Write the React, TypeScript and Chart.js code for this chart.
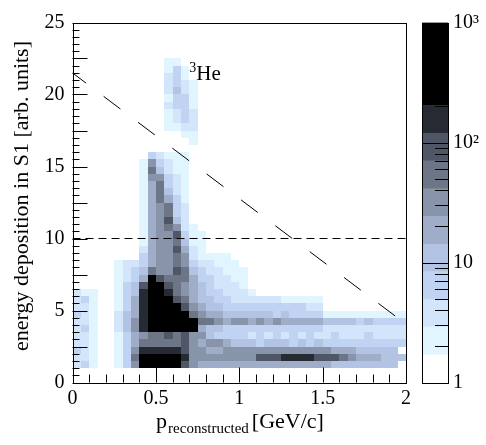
import React, { useEffect, useRef } from 'react';
import { Chart, registerables } from 'chart.js';

Chart.register(...registerables);

const FONT = "'Liberation Serif', 'Times New Roman', serif";
Chart.defaults.font.family = FONT;

// histogram binning (GeV/c x arb. units)
const BIN_W = 0.05;
const BIN_H = 0.5;

// colour levels of the z axis (counts) and their fill colours
const Z_LEVELS = [1, 1.7, 2.9, 4.9, 8.4, 14.2, 24.2, 41.2, 70.2, 119.4, 203.3, 346.1, 589.3, 1000];
const Z_COLORS = [
  '#ffffff', '#e1f5fe', '#d3e5fb', '#c1d3f3', '#b3c3e4', '#9fadc8', '#8794aa',
  '#6c7687', '#4f5666', '#262a33', '#000000', '#000000', '#000000',
];
const Z_TICKS = [1, 10, 100, 1000];
const Z_LABELS = ['1', '10', '10²', '10³'];

// dashed cut lines
const CUT_LINE = [{ x: 0, y: 10 }, { x: 2, y: 10 }];
const DIAG_LINE = [{ x: 0, y: 21.5 }, { x: 2, y: 4.05 }];

// histogram rows, top (y=25) to bottom (y=0); "startCol:levels", level = colour band index (base 13)
const HIST_ROWS = [
  '', '', '', '', '',
  '11:11',
  '11:131',
  '11:231',
  '11:2321',
  '11:2421',
  '11:1331',
  '11:2331',
  '11:1232',
  '11:1232',
  '11:1122',
  '13:11',
  '14:1',
  '',
  '9:32111',
  '8:163211',
  '8:174211',
  '8:166321',
  '8:157321',
  '8:157421',
  '8:157531',
  '8:156732',
  '8:156732',
  '8:156842',
  '8:1567621',
  '8:15668311',
  '8:15667411',
  '8:25668521',
  '8:35667621111',
  '5:122356676322111',
  '5:1234766874322111',
  '5:1235c87775332211',
  '5:1348cc8765432221',
  '0:211 5:1349cc97654332221',
  '0:231 5:1359ccc875443322222211111',
  '0:221 5:1359cccc86544333333333322',
  '0:321 5:2459ccccb76554444443433331111111111',
  '0:221 5:2469cccccb7765665656555554444343333',
  '0:231 5:2469ccccca5443333333333332222222222',
  '0:221 5:13567787866433332323232322322232222',
  '0:221 5:13577777865665444344434343333333333',
  '0:321 5:1369999986655666666666666655544444',
  '0:221 5:137ccccb966666666888999988876555444',
  '0:231 5:136cccca86555555555555555544444444',
  '', '',
];

type Cell = { x: number; y: number; v: number };

const CELLS: Cell[] = [];
HIST_ROWS.forEach((row, i) => {
  const r = HIST_ROWS.length - 1 - i;
  row.split(' ').filter(Boolean).forEach((seg) => {
    const [start, levels] = seg.split(':');
    [...levels].forEach((ch, j) => {
      if (ch === '.') return;
      const k = parseInt(ch, 13);
      CELLS.push({ x: (Number(start) + j) * BIN_W, y: r * BIN_H, v: Math.sqrt(Z_LEVELS[k] * Z_LEVELS[k + 1]) });
    });
  });
});

const bandOf = (v: number) => {
  for (let k = 0; k < Z_COLORS.length; k++) {
    if (v < Z_LEVELS[k + 1]) return k;
  }
  return Z_COLORS.length - 1;
};

const hist2d = {
  id: 'hist2d',
  beforeDatasetsDraw(chart: any) {
    const { ctx, scales: { x, y } } = chart;
    ctx.save();
    for (const c of CELLS) {
      const k = bandOf(c.v);
      if (k === 0) continue;
      const x0 = Math.round(x.getPixelForValue(c.x));
      const x1 = Math.round(x.getPixelForValue(c.x + BIN_W));
      const y0 = Math.round(y.getPixelForValue(c.y + BIN_H));
      const y1 = Math.round(y.getPixelForValue(c.y));
      ctx.fillStyle = Z_COLORS[k];
      ctx.fillRect(x0, y0, x1 - x0, y1 - y0);
    }
    ctx.restore();
  },
};

// ROOT-like frame with ticks pointing inwards
const rootFrame = {
  id: 'rootFrame',
  afterDatasetsDraw(chart: any) {
    const { ctx, chartArea: a, scales: { x, y } } = chart;
    ctx.save();
    ctx.strokeStyle = '#000';
    ctx.lineWidth = 1;
    ctx.beginPath();
    for (let i = 0; i <= 20; i++) {
      const px = Math.round(x.getPixelForValue(i * 0.1)) + 0.5;
      const len = i % 5 === 0 ? 15 : 8;
      ctx.moveTo(px, a.bottom);
      ctx.lineTo(px, a.bottom - len);
    }
    for (let i = 0; i <= 50; i++) {
      const py = Math.round(y.getPixelForValue(i * 0.5)) + 0.5;
      const len = i % 5 === 0 ? 15 : 7;
      ctx.moveTo(a.left, py);
      ctx.lineTo(a.left + len, py);
    }
    ctx.stroke();
    ctx.strokeRect(Math.round(a.left) + 0.5, Math.round(a.top) + 0.5,
      Math.round(a.right) - Math.round(a.left), Math.round(a.bottom) - Math.round(a.top));
    ctx.restore();
  },
  afterDraw(chart: any) {
    const { ctx, scales: { x, y } } = chart;
    ctx.save();
    ctx.fillStyle = '#000';
    ctx.textBaseline = 'alphabetic';

    // y title
    ctx.save();
    ctx.translate(28, 196);
    ctx.rotate(-Math.PI / 2);
    ctx.font = `22px ${FONT}`;
    ctx.textAlign = 'center';
    ctx.fillText('energy deposition in S1 [arb. units]', 0, 0);
    ctx.restore();

    // x title with subscript
    ctx.textAlign = 'left';
    ctx.font = `22px ${FONT}`;
    const wp = ctx.measureText('p').width;
    const wu = ctx.measureText('[GeV/c]').width;
    ctx.font = `15px ${FONT}`;
    const ws = ctx.measureText('reconstructed').width;
    const total = wp + 1 + ws + 3 + wu;
    let tx = 240 - total / 2;
    ctx.font = `22px ${FONT}`;
    ctx.fillText('p', tx, 428);
    tx += wp + 1;
    ctx.font = `15px ${FONT}`;
    ctx.fillText('reconstructed', tx, 433);
    tx += ws + 3;
    ctx.font = `22px ${FONT}`;
    ctx.fillText('[GeV/c]', tx, 428);

    // 3He label
    const hx = x.getPixelForValue(0.7);
    const hy = y.getPixelForValue(21.0);
    ctx.font = `14px ${FONT}`;
    ctx.fillText('3', hx, hy - 8);
    const w3 = ctx.measureText('3').width;
    ctx.font = `21px ${FONT}`;
    ctx.fillText('He', hx + w3, hy);
    ctx.restore();
  },
};

const colorFrame = {
  id: 'colorFrame',
  afterDraw(chart: any) {
    const { ctx, chartArea: a, scales: { y } } = chart;
    ctx.save();
    ctx.strokeStyle = '#000';
    ctx.lineWidth = 1;
    ctx.beginPath();
    for (const dec of [1, 10, 100]) {
      for (let m = 2; m <= 9; m++) {
        const py = Math.round(y.getPixelForValue(m * dec)) + 0.5;
        ctx.moveTo(a.right, py);
        ctx.lineTo(a.right - 13, py);
      }
    }
    for (const v of [10, 100]) {
      const py = Math.round(y.getPixelForValue(v)) + 0.5;
      ctx.moveTo(a.right, py);
      ctx.lineTo(a.left, py);
    }
    ctx.stroke();
    ctx.strokeRect(Math.round(a.left) + 0.5, Math.round(a.top) + 0.5,
      Math.round(a.right) - Math.round(a.left), Math.round(a.bottom) - Math.round(a.top));
    ctx.restore();
  },
};

const App: React.FC = () => {
  const mainRef = useRef<HTMLCanvasElement>(null);
  const barRef = useRef<HTMLCanvasElement>(null);

  useEffect(() => {
    if (!mainRef.current || !barRef.current) return;
    const tickFont = { family: FONT, size: 20 };

    const main = new Chart(mainRef.current, {
      type: 'scatter',
      data: {
        datasets: [
          { data: CUT_LINE, showLine: true, borderColor: '#000', borderWidth: 1, borderDash: [8, 5], pointRadius: 0 },
          { data: DIAG_LINE, showLine: true, borderColor: '#000', borderWidth: 1, borderDash: [21, 22], borderDashOffset: 4, pointRadius: 0 },
        ],
      },
      options: {
        animation: false,
        responsive: false,
        layout: { padding: { left: 0, top: 22.5, right: 8, bottom: 0 } },
        plugins: { legend: { display: false }, tooltip: { enabled: false } },
        scales: {
          x: {
            type: 'linear', min: 0, max: 2,
            ticks: {
              stepSize: 0.5, font: tickFont, color: '#000', padding: 4, maxRotation: 0,
              callback: (v: any) => String(Number(Number(v).toFixed(2))),
            },
            grid: { display: false, drawTicks: false },
            border: { display: false },
            afterFit: (s: any) => { s.height = 62.5; },
          },
          y: {
            type: 'linear', min: 0, max: 25,
            ticks: { stepSize: 5, font: tickFont, color: '#000', padding: 8 },
            grid: { display: false, drawTicks: false },
            border: { display: false },
            afterFit: (s: any) => { s.width = 72.5; },
          },
        },
      },
      plugins: [hist2d, rootFrame],
    });

    const bar = new Chart(barRef.current, {
      type: 'bar',
      data: {
        labels: [''],
        datasets: Z_COLORS.map((c, k) => ({
          data: [[Z_LEVELS[k], Z_LEVELS[k + 1]]] as any,
          backgroundColor: c,
          borderWidth: 0,
          barPercentage: 1,
          categoryPercentage: 1,
          grouped: false,
        })),
      },
      options: {
        animation: false,
        responsive: false,
        layout: { padding: { left: 7, top: 22.5, right: 0, bottom: 62.5 } },
        plugins: { legend: { display: false }, tooltip: { enabled: false } },
        scales: {
          x: { display: false },
          y: {
            type: 'logarithmic', position: 'right', min: 1, max: 1000,
            afterBuildTicks: (s: any) => { s.ticks = Z_TICKS.map((v) => ({ value: v })); },
            ticks: {
              font: tickFont, color: '#000', padding: 5,
              callback: (v: any) => Z_LABELS[Z_TICKS.indexOf(Number(v))] ?? '',
            },
            grid: { display: false, drawTicks: false },
            border: { display: false },
            afterFit: (s: any) => { s.width = 38; },
          },
        },
      },
      plugins: [colorFrame],
    });

    return () => {
      main.destroy();
      bar.destroy();
    };
  }, []);

  return (
    <div style={{ position: 'absolute', left: 0, top: 0, width: 486, height: 445, background: '#fff' }}>
      <canvas ref={mainRef} width={415} height={445} style={{ position: 'absolute', left: 0, top: 0 }} />
      <canvas ref={barRef} width={71} height={445} style={{ position: 'absolute', left: 415, top: 0 }} />
    </div>
  );
};

export default App;
